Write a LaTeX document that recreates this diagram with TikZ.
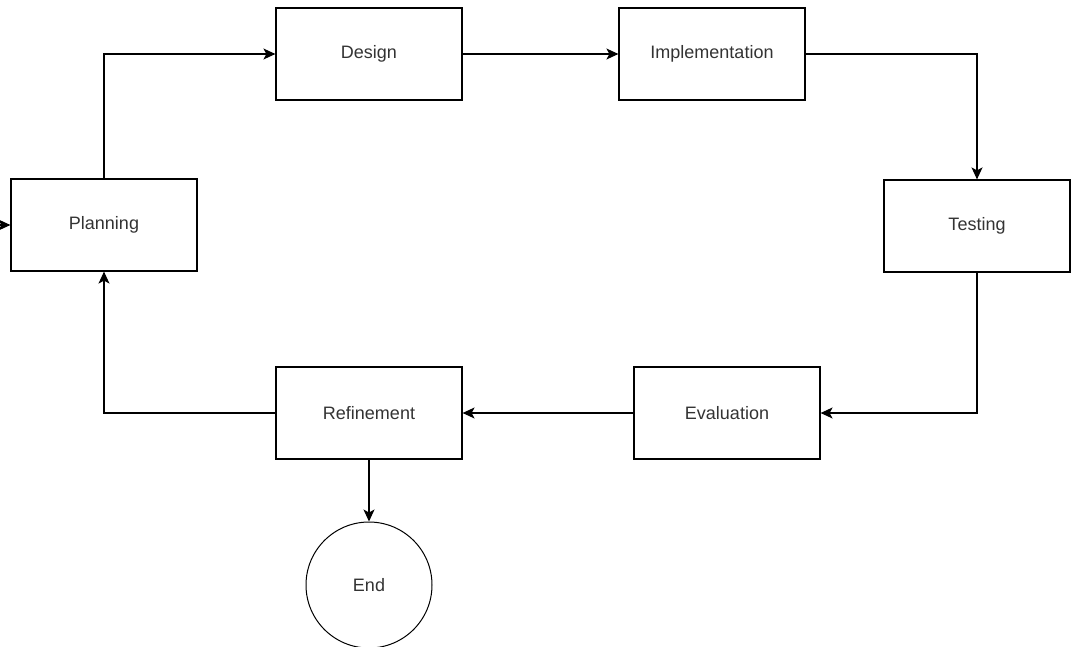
\documentclass[tikz,border=0pt]{standalone}
\usepackage{fontspec}
\setmainfont{Liberation Sans}
\usetikzlibrary{arrows.meta}
\tikzset{x=1pt, y=-1pt,
    stage/.style={draw, line width=1.2pt, minimum width=186pt, minimum height=92pt,
        inner sep=0pt, font=\fontsize{18}{21}\selectfont, text=black!80},
    finish/.style={draw, circle, line width=1pt, minimum size=126pt,
        inner sep=0pt, font=\fontsize{18}{21}\selectfont, text=black!80},
    flow/.style={-{Stealth[length=12pt,width=11pt,inset=3pt]}, line width=1.2pt},
    }
\begin{document}
\begin{tikzpicture}
\useasboundingbox (0,0) rectangle (1072,646);
% stages of the cycle
\node[stage] (plan)   at (104,225) {Planning};
\node[stage] (design) at (369,54)  {Design};
\node[stage] (impl)   at (712,54)  {Implementation};
\node[stage] (test)   at (977,226) {Testing};
\node[stage] (eval)   at (727,413) {Evaluation};
\node[stage] (refine) at (369,413) {Refinement};
\node[finish] (end)   at (369,585) {End};
\coordinate (start) at (0,225);
% connectors
\draw[flow] (start) -- (plan);
\draw[flow] (plan) |- (design);
\draw[flow] (design) -- (impl);
\draw[flow] (impl) -| (test);
\draw[flow] (test) |- (eval);
\draw[flow] (eval) -- (refine);
\draw[flow] (refine) -| (plan);
\draw[flow] (refine) -- (end);
\end{tikzpicture}
\end{document}
